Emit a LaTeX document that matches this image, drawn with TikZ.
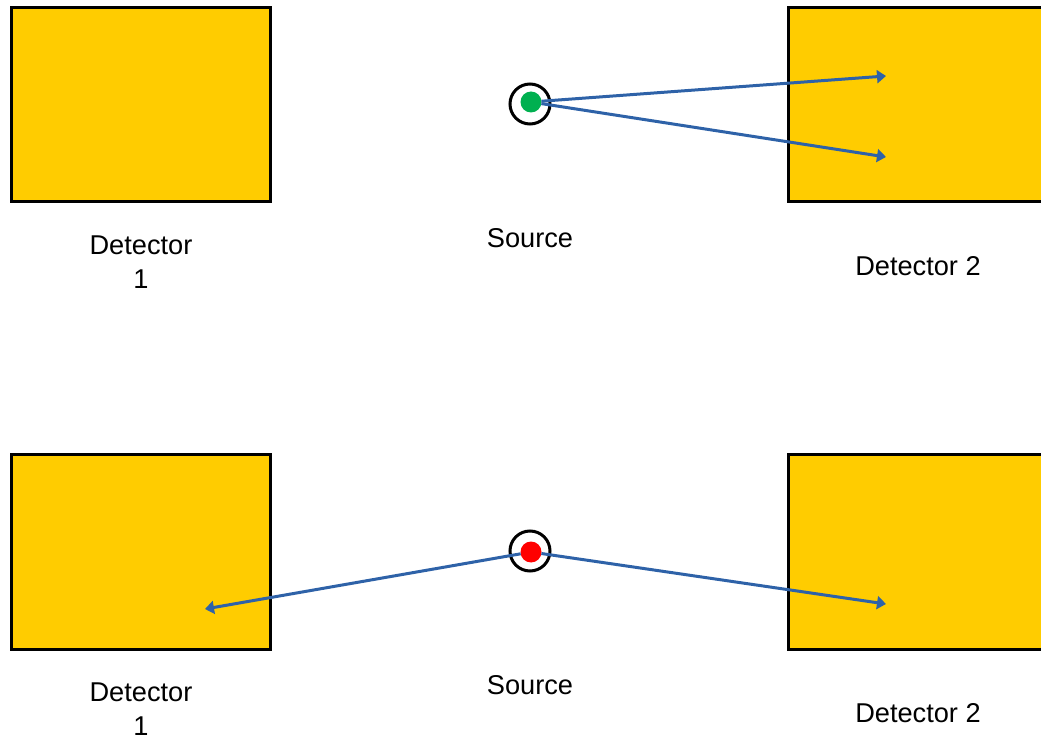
\documentclass[tikz,border=0pt]{standalone}
\usepackage{fontspec}
\setmainfont{Liberation Sans}
\usetikzlibrary{arrows.meta}

\definecolor{detyellow}{HTML}{FFCC00}
\definecolor{rayblue}{HTML}{2E62A8}
\definecolor{dotgreen}{HTML}{00B050}
\definecolor{dotred}{HTML}{FF0000}

\begin{document}
\begin{tikzpicture}[x=0.5pt,y=-0.5pt,
  detector/.style={draw=black, fill=detyellow, line width=1.5pt, minimum height=97pt,
    inner sep=0pt, outer sep=0pt, anchor=north west},
  ring/.style={circle, draw=black, line width=1.5pt, minimum size=20pt, inner sep=0pt},
  srcdot/.style={circle, fill=#1, minimum size=10.5pt, inner sep=0pt, outer sep=0pt},
  ray/.style={draw=rayblue, line width=1.5pt, -{Triangle[length=4.5pt,width=6.5pt]}},
  lbl/.style={font=\fontsize{13.6}{17}\selectfont, align=center, inner sep=0pt}]

% Fix the page to the picture size
\useasboundingbox (0,0) rectangle (1041,738);
\clip (0,0) rectangle (1041,738);

% Draw both set-ups: detectors, source and labels
\foreach \row/\dy/\sy/\col in {top/0/102/dotgreen, bot/447/552/dotred} {
    \node[detector, minimum width=129.5pt] (det1\row) at (11,8+\dy) {};
    \node[detector, minimum width=160pt] (det2\row) at (788,8+\dy) {};
    \node[ring] (ring\row) at (530,104+\dy) {};
    \node[srcdot=\col] (src\row) at (531,\sy) {};
    \node[lbl] (lbl1\row) at (141,262+\dy) {Detector\\1};
    \node[lbl] (lblsrc\row) at (530,238+\dy) {Source};
    \node[lbl] (lbl2\row) at (918,266+\dy) {Detector 2};
}

% Define the points where the rays end
\coordinate (hitA) at (886,76);
\coordinate (hitB) at (886,157);
\coordinate (hitC) at (205,609);
\coordinate (hitD) at (886,604);

% Draw the rays
\draw[ray] (srctop) -- (hitA);
\draw[ray] (srctop) -- (hitB);
\draw[ray] (srcbot) -- (hitC);
\draw[ray] (srcbot) -- (hitD);

\end{tikzpicture}
\end{document}
